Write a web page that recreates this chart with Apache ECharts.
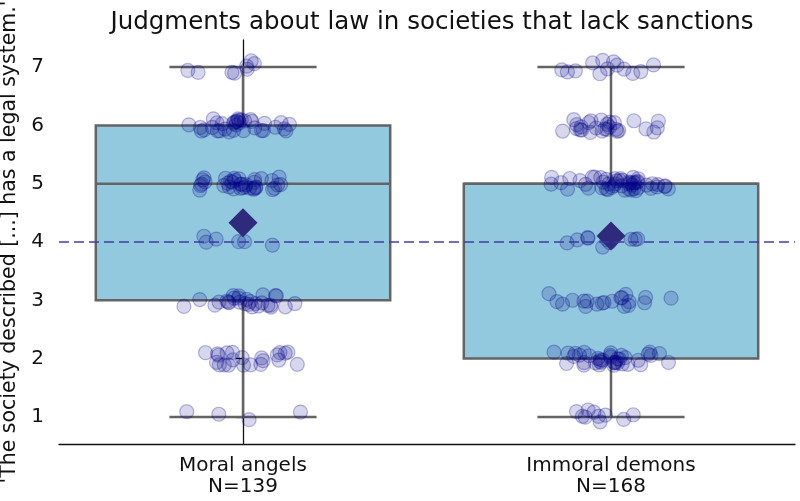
<!DOCTYPE html>
<html>
<head>
<meta charset="utf-8">
<script src="https://cdn.jsdelivr.net/npm/echarts@6/dist/echarts.min.js"></script>
<style>
html,body{margin:0;padding:0;background:#fff;}
#chart{width:800px;height:501px;}
</style>
</head>
<body>
<div id="chart"></div>
<script>
// ---- data ----
const categories = ['Moral angels', 'Immoral demons'];
const sampleSizes = [139, 168];
const responseLevels = [1, 2, 3, 4, 5, 6, 7];
const angelsCounts = [4, 22, 28, 6, 36, 35, 8];
const demonsCounts = [10, 38, 20, 10, 50, 27, 13];
const yTickValues = [1, 2, 3, 4, 5, 6, 7];
const midpointValue = 4;
const titleText = 'Judgments about law in societies that lack sanctions';
const yAxisTitle = "'The society described [...] has a legal system.'";

// ---- helpers ----
const groupCounts = [angelsCounts, demonsCounts];
function expand(counts) {
  const out = [];
  counts.forEach((c, i) => { for (let k = 0; k < c; k++) out.push(responseLevels[i]); });
  return out;
}
function quantile(sorted, p) {
  const pos = (sorted.length - 1) * p;
  const lo = Math.floor(pos), hi = Math.ceil(pos);
  return sorted[lo] + (sorted[hi] - sorted[lo]) * (pos - lo);
}
const groupValues = groupCounts.map(expand);
const stats = groupValues.map((vals, i) => {
  const s = vals.slice().sort((a, b) => a - b);
  const q1 = quantile(s, 0.25), med = quantile(s, 0.5), q3 = quantile(s, 0.75);
  const iqr = q3 - q1;
  const lo = s.find(v => v >= q1 - 1.5 * iqr);
  const hi = s.slice().reverse().find(v => v <= q3 + 1.5 * iqr);
  return [i, lo, q1, med, q3, hi];
});
const means = groupValues.map((vals, i) => [i, vals.reduce((a, b) => a + b, 0) / vals.length]);

// deterministic hash jitter (layout only, not data)
function hash01(n) { const s = Math.sin(n * 12.9898) * 43758.5453; return s - Math.floor(s); }
const pointData = [];
groupCounts.forEach((counts, g) => {
  let k = 0;
  counts.forEach((c, li) => {
    for (let j = 0; j < c; j++) {
      k++;
      const seed = g * 1000 + k;
      const jx = (hash01(seed) + hash01(seed + 500.5)) / 2 - 0.5;
      const jy = hash01(seed + 250.25) - 0.5;
      pointData.push([g + jx * 0.36, responseLevels[li] + jy * 0.24]);
    }
  });
});

const FONT = 'DejaVu Sans';
const chart = echarts.init(document.getElementById('chart'), null, { renderer: 'canvas' });
const option = {
  animation: false,
  backgroundColor: '#fff',
  title: {
    text: titleText, left: 427, top: 5, textAlign: 'center',
    textStyle: { fontFamily: FONT, fontSize: 24.5, fontWeight: 'normal', color: '#111' }
  },
  grid: { left: 59, right: 5, top: 40, bottom: 57, containLabel: false, outerBoundsMode: 'none' },
  xAxis: [{
    type: 'category', data: categories, boundaryGap: true,
    axisLine: { lineStyle: { color: '#111', width: 1.3 } },
    axisTick: { alignWithLabel: true, length: 6, lineStyle: { color: '#111', width: 1.3 } },
    axisLabel: {
      fontFamily: FONT, fontSize: 20, color: '#111', margin: 11, lineHeight: 21,
      formatter: (v, i) => v + '\nN=' + sampleSizes[i]
    },
    splitLine: { show: false }
  }, {
    type: 'value', min: -0.5, max: 1.5, show: false
  }],
  yAxis: {
    type: 'value', min: 0.535, max: 7.465,
    name: yAxisTitle, nameLocation: 'middle', nameGap: 36, nameRotate: 90,
    nameTextStyle: { fontFamily: FONT, fontSize: 20.5, color: '#111' },
    axisLine: { show: true, lineStyle: { color: '#111', width: 1.3 } },
    axisTick: { show: true, length: 7, customValues: yTickValues, lineStyle: { color: '#111', width: 1.3 } },
    axisLabel: { fontFamily: FONT, fontSize: 20, color: '#111', margin: 15, customValues: yTickValues },
    splitLine: { show: false }
  },
  series: [{
    type: 'custom',
    xAxisIndex: 0,
    data: stats,
    encode: { x: 0, y: [1, 2, 3, 4, 5] },
    renderItem: function (params, api) {
      const i = api.value(0);
      const band = api.size([1, 0])[0];
      const half = band * 0.4, capHalf = band * 0.2;
      const pLo = api.coord([i, api.value(1)]);
      const pQ1 = api.coord([i, api.value(2)]);
      const pMed = api.coord([i, api.value(3)]);
      const pQ3 = api.coord([i, api.value(4)]);
      const pHi = api.coord([i, api.value(5)]);
      const x = pQ1[0];
      const stroke = { stroke: '#646464', lineWidth: 2.5 };
      return {
        type: 'group',
        children: [
          { type: 'line', shape: { x1: x, y1: pQ1[1], x2: x, y2: pLo[1] }, style: stroke },
          { type: 'line', shape: { x1: x, y1: pQ3[1], x2: x, y2: pHi[1] }, style: stroke },
          { type: 'line', shape: { x1: x - capHalf, y1: pLo[1], x2: x + capHalf, y2: pLo[1] }, style: stroke },
          { type: 'line', shape: { x1: x - capHalf, y1: pHi[1], x2: x + capHalf, y2: pHi[1] }, style: stroke },
          { type: 'rect', shape: { x: x - half, y: pQ3[1], width: half * 2, height: pQ1[1] - pQ3[1] },
            style: { fill: '#93c9de', stroke: '#646464', lineWidth: 2.5 } },
          { type: 'line', shape: { x1: x - half, y1: pMed[1], x2: x + half, y2: pMed[1] }, style: stroke }
        ]
      };
    }
  }, {
    type: 'line',
    xAxisIndex: 1,
    data: [[-0.5, midpointValue], [1.5, midpointValue]],
    symbol: 'none',
    lineStyle: { color: 'rgba(55,55,160,0.72)', width: 2, type: [10, 5] },
    silent: true
  }, {
    type: 'scatter',
    xAxisIndex: 1,
    data: pointData,
    symbol: 'circle',
    symbolSize: 14,
    itemStyle: { color: 'rgba(0,0,139,0.2)', borderColor: 'rgba(0,0,139,0.35)', borderWidth: 1.2 }
  }, {
    type: 'scatter',
    xAxisIndex: 1,
    data: means,
    symbol: 'diamond',
    symbolSize: 29,
    itemStyle: { color: '#2e2b7d', opacity: 1 }
  }]
};
chart.setOption(option);
</script>
</body>
</html>
